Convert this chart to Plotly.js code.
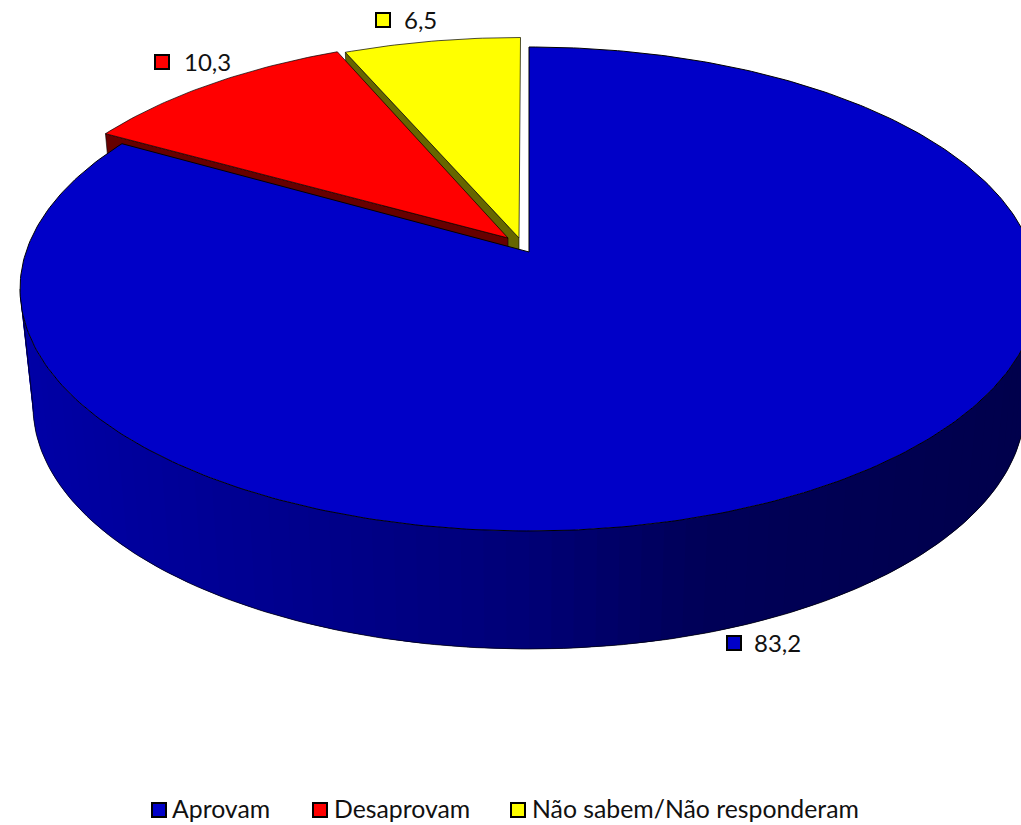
<!DOCTYPE html>
<html><head><meta charset="utf-8">
<script src="https://cdn.plot.ly/plotly-3.0.1.min.js"></script>
<style>html,body{margin:0;padding:0;background:#fff;overflow:hidden}#c{width:1021px;height:825px}</style>
</head><body><div id="c"></div>
<script>
const categories = ['Aprovam','Desaprovam','Não sabem/Não responderam'];
const values = [83.2,10.3,6.5];
const topColors = ['#0000C8','#FF0000','#FFFF00'];
const wallColors = [null,'#660000','#666600'];
const labelMarks = [[734,643],[162,62],[383,20]];
const labelOffsets = [20,22,21];
const legendMarks = [159,320,518];
const legendTexts = [172,334,532];
const wallStops = [[0,[0,0,168]],[300,[0,0,140]],[530,[0,0,118]],[700,[0,0,88]],[1021,[0,0,76]]];

// projection of the tilted disc
const cx=529, cy=289, rx=509, ry=242, persp=0.153;
const wallDrop=117, wallRx=496, wallRy=243;
const rimShift=[[0,0],[-16.5,-10],[-8.5,-9.5]];
const apexShift=[[0,0],[-21,-14],[-10,-14]];

function project(deg){
  const t=deg*Math.PI/180, u=Math.sin(t), v=Math.cos(t), d=1+persp*v;
  return [cx+rx*u*Math.sqrt(1-persp*persp)/d, cy-ry*(v+persp)/d];
}
const total=values.reduce((a,b)=>a+b,0);
let acc=0;
const slices=values.map((val,i)=>{
  const a0=acc/total*360; acc+=val; const a1=acc/total*360;
  const n=Math.max(12,Math.round((a1-a0)*1.2));
  const xs=[],ys=[];
  for(let k=0;k<=n;k++){const p=project(a0+(a1-a0)*k/n);xs.push(p[0]+rimShift[i][0]);ys.push(p[1]+rimShift[i][1]);}
  const apex=[cx+apexShift[i][0], cy-ry*persp+apexShift[i][1]];
  return {xs,ys,apex};
});
const dropX=x=>cx+(x-cx)*wallRx/rx;
const traces=[];
function poly(xs,ys,fill,lineColor,w){
  traces.push({type:'scatter',mode:w>0?'lines':'none',x:xs,y:ys,fill:'toself',fillcolor:fill,
    line:{color:lineColor,width:w},hoverinfo:'skip',showlegend:false});
}
function wall(i){
  const s=slices[i], x0=s.xs[0], y0=s.ys[0], a=s.apex;
  poly([x0,a[0],dropX(a[0]),dropX(x0),x0],[y0,a[1],a[1]+wallDrop,y0+wallDrop,y0],wallColors[i],'#000',0.6);
}
function topFace(i,w){
  const s=slices[i];
  poly([s.apex[0],...s.xs,s.apex[0]],[s.apex[1],...s.ys,s.apex[1]],topColors[i],'#000',w);
}
wall(2); topFace(2,0.7); wall(1); topFace(1,0.7);

// blue outer wall: strips along the front of the rim, each laid under the next
function wallColor(x){
  for(let k=0;k<wallStops.length-1;k++){
    const a=wallStops[k],b=wallStops[k+1];
    if(x<=b[0]){const t=Math.max(0,(x-a[0])/(b[0]-a[0]));
      return 'rgb('+a[1].map((c,j)=>Math.round(c+(b[1][j]-c)*t)).join(',')+')';}
  }
  return 'rgb(0,0,76)';
}
const strips=70;
const bx=[],by=[];
const tx=f=>cx+rx*Math.cos(f),ty=f=>cy+ry*Math.sin(f),ux=f=>cx+wallRx*Math.cos(f),uy=f=>cy+wallDrop+wallRy*Math.sin(f);
for(let k=0;k<strips;k++){
  const f0=Math.PI*k/strips,mid=Math.PI*(k+1)/strips,f1=Math.min(Math.PI,Math.PI*(k+2)/strips);
  const col=wallColor((tx(f0)+tx(mid))/2);
  const xs=[],ys=[],xb=[],yb=[];
  for(let q=0;q<=4;q++){const f=f0+(f1-f0)*q/4;xs.push(tx(f));ys.push(ty(f));xb.unshift(ux(f));yb.unshift(uy(f));}
  poly([...xs,...xb,xs[0]],[...ys,...yb,ys[0]],col,col,0);
}
for(let k=0;k<=180;k++){const f=Math.PI*k/180;bx.push(ux(f));by.push(uy(f));}
bx.push(cx-rx);by.push(cy);
traces.push({type:'scatter',mode:'lines',x:bx,y:by,line:{color:'#000',width:0.7},hoverinfo:'skip',showlegend:false});
topFace(0,1);

// value label keys and legend keys
traces.push({type:'scatter',mode:'markers',x:labelMarks.map(m=>m[0]),y:labelMarks.map(m=>m[1]),
  marker:{symbol:'square',size:14,color:topColors,line:{color:'#000',width:2}},hoverinfo:'skip',showlegend:false});
traces.push({type:'scatter',mode:'markers',x:legendMarks,y:legendMarks.map(()=>810),
  marker:{symbol:'square',size:14,color:topColors,line:{color:'#000',width:2}},hoverinfo:'skip',showlegend:false});

const fontFam='Lato, sans-serif';
const annotations=[];
values.forEach((v,i)=>annotations.push({x:labelMarks[i][0]+labelOffsets[i]-2,y:labelMarks[i][1]-1,xref:'x',yref:'y',
  text:String(v).replace('.',','),showarrow:false,xanchor:'left',yanchor:'middle',
  font:{family:fontFam,size:24,color:'#111'}}));
categories.forEach((c,i)=>annotations.push({x:legendTexts[i]-2,y:808,xref:'x',yref:'y',text:c,showarrow:false,
  xanchor:'left',yanchor:'middle',font:{family:fontFam,size:24.8,color:'#111'}}));

Plotly.newPlot('c',traces,{
  width:1021,height:825,margin:{l:0,r:0,t:0,b:0},paper_bgcolor:'#fff',plot_bgcolor:'#fff',showlegend:false,
  xaxis:{range:[0,1021],visible:false,fixedrange:true},
  yaxis:{range:[825,0],visible:false,fixedrange:true},
  annotations
},{displayModeBar:false,staticPlot:true});
</script></body></html>
